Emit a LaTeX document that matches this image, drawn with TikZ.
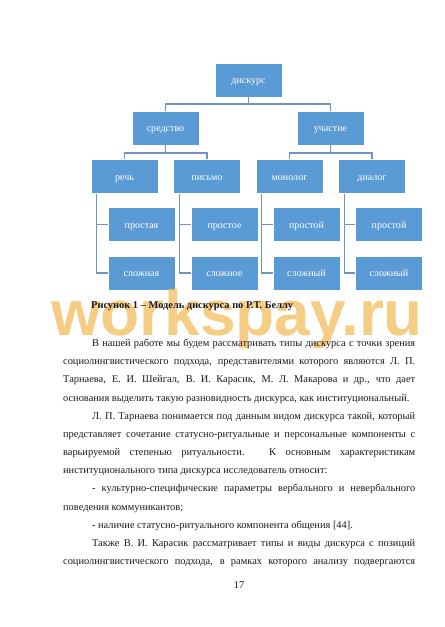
\documentclass[tikz,border=0pt]{standalone}
\usepackage{fontspec}
\setmainfont{Liberation Serif}
\newfontfamily\markfont{Liberation Sans}
\usetikzlibrary{positioning, calc}
\definecolor{SABlue}{HTML}{5B9BD5}
\definecolor{SALine}{HTML}{6F94C4}
\definecolor{WMGold}{HTML}{F2B54A}
\definecolor{PageInk}{HTML}{1A1A1A}

\begin{document}
\begin{tikzpicture}[
  x=0.4729mm, y=-0.4729mm,
  box/.style={rectangle, fill=SABlue, draw=white, line width=0.4pt, text=white,
              font=\fontsize{13.5pt}{15pt}\selectfont, inner sep=0pt,
              text height=1.05em, text depth=0.1em,
              minimum width=31.7mm, minimum height=16mm},
  link/.style={draw=SALine, line width=0.55mm},
  body/.style={anchor=base west, inner sep=0pt, text width=166.5mm, align=justify,
               text=PageInk, font=\fontsize{14pt}{24.47pt}\selectfont},
  caption/.style={anchor=base west, inner sep=0pt, text=PageInk,
                  font=\bfseries\fontsize{14pt}{16pt}\selectfont},
  pnum/.style={anchor=base, inner sep=0pt, text=PageInk, font=\fontsize{14pt}{16pt}\selectfont},
  wmark/.style={anchor=base west, inner sep=0pt, text=WMGold, text opacity=0.68,
                font=\markfont\bfseries\fontsize{86pt}{86pt}\selectfont},
]
\useasboundingbox (0,0) rectangle (444,627);

% --- model tree ---
\node[box] (disk) at (248.5,80) {дискурс};

\node[box] (sred) at (165.5,128) {средство};
\node[box] (uch)  at (330.5,128) {участие};

\node[box] (rech) at (124.5,176.5) {речь};
\node[box] (pis)  at (207,176.5)   {письмо};
\node[box] (mon)  at (289.5,176.5) {монолог};
\node[box] (dia)  at (372,176.5)   {диалог};

\node[box] (prostaya)  at (141.5,224.5) {простая};
\node[box] (slozhnaya) at (141.5,273)   {сложная};
\node[box] (prostoe)   at (224.5,224.5) {простое};
\node[box] (slozhnoe)  at (224.5,273)   {сложное};
\node[box] (prostojM)  at (306.5,224.5) {простой};
\node[box] (slozhM)    at (306.5,273)   {сложный};
\node[box] (prostojD)  at (389,224.5)   {простой};
\node[box] (slozhD)    at (389,273)     {сложный};

% --- connectors ---
\draw[link] (disk.south) -- ++(0,7) -| (sred.north);
\draw[link] (disk.south) -- ++(0,7) -| (uch.north);
\draw[link] (sred.south) -- ++(0,8) -| (rech.north);
\draw[link] (sred.south) -- ++(0,8) -| (pis.north);
\draw[link] (uch.south)  -- ++(0,8) -| (mon.north);
\draw[link] (uch.south)  -- ++(0,8) -| (dia.north);

\draw[link] ($(rech.south west)+(6,0)$) |- (prostaya.west);
\draw[link] ($(rech.south west)+(6,0)$) |- (slozhnaya.west);
\draw[link] ($(pis.south west)+(6,0)$)  |- (prostoe.west);
\draw[link] ($(pis.south west)+(6,0)$)  |- (slozhnoe.west);
\draw[link] ($(mon.south west)+(6,0)$)  |- (prostojM.west);
\draw[link] ($(mon.south west)+(6,0)$)  |- (slozhM.west);
\draw[link] ($(dia.south west)+(6,0)$)  |- (prostojD.west);
\draw[link] ($(dia.south west)+(6,0)$)  |- (slozhD.west);

% --- watermark ---
\node[wmark] (mark) at (51,335) {workspay.ru};

% --- caption and page text ---
\node[caption] (cap) at (91,308.5) {Рисунок 1 – Модель дискурса по Р.Т. Беллу};

\node[body] (text) at (63,346.5) {%
  \tolerance=10000 \hbadness=10000 \hyphenpenalty=10000 \exhyphenpenalty=10000
  \hspace*{13.7mm}В нашей работе мы будем рассматривать типы дискурса с точки зрения\linebreak
  социолингвистического подхода, представителями которого являются Л. П.\linebreak
  Тарнаева, Е. И. Шейгал, В. И. Карасик, М. Л. Макарова и др., что дает\linebreak
  основания выделить такую разновидность дискурса, как институциональный.\par
  \hspace*{13.7mm}Л. П. Тарнаева понимается под данным видом дискурса такой, который\linebreak
  представляет сочетание статусно-ритуальные и персональные компоненты с\linebreak
  варьируемой степенью ритуальности. К основным характеристикам\linebreak
  институционального типа дискурса исследователь относит:\par
  \hspace*{13.7mm}- культурно-специфические параметры вербального и невербального\linebreak
  поведения коммуникантов;\par
  \hspace*{13.7mm}- наличие статусно-ритуального компонента общения [44].\par
  \parfillskip=0pt
  \hspace*{13.7mm}Также В. И. Карасик рассматривает типы и виды дискурса с позиций\linebreak
  социолингвистического подхода, в рамках которого анализу подвергаются\par};

\node[pnum] (page) at (239,588) {17};

\end{tikzpicture}
\end{document}
